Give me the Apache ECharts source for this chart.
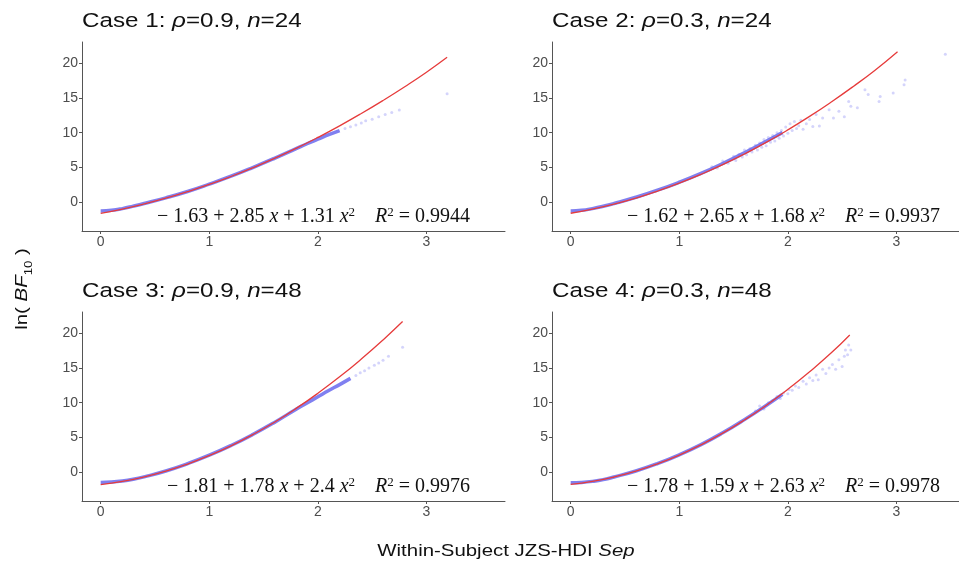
<!DOCTYPE html>
<html>
<head>
<meta charset="utf-8">
<script src="https://cdn.jsdelivr.net/npm/echarts@6/dist/echarts.min.js"></script>
<style>
  html, body { margin: 0; padding: 0; background: #fff; }
  #main { width: 959px; height: 571px; }
</style>
</head>
<body>
<div id="main"></div>
<script>
// panel labels
var caseRho = ['0.9', '0.3', '0.9', '0.3'];
var caseN = ['24', '24', '48', '48'];
var coefA = ['1.63', '1.62', '1.81', '1.78'];
var coefB = ['2.85', '2.65', '1.78', '1.59'];
var coefC = ['1.31', '1.68', '2.4', '2.63'];
var rSquared = ['0.9944', '0.9937', '0.9976', '0.9978'];
var xTicks = [0, 1, 2, 3];
var yTicks = [0, 5, 10, 15, 20];

// red quadratic fit
var fit1 = [[0,-1.63],[0.2,-1.01],[0.4,-0.28],[0.6,0.55],[0.8,1.49],[1.0,2.53],[1.2,3.68],[1.4,4.93],[1.6,6.28],[1.8,7.74],[2.0,9.31],[2.2,10.98],[2.4,12.76],[2.6,14.64],[2.8,16.62],[3.0,18.71],[3.19,20.86]];
var fit2 = [[0,-1.62],[0.2,-1.02],[0.4,-0.29],[0.6,0.57],[0.8,1.58],[1.0,2.71],[1.2,3.98],[1.4,5.38],[1.6,6.92],[1.8,8.59],[2.0,10.40],[2.2,12.34],[2.4,14.42],[2.6,16.63],[2.8,18.97],[3.01,21.67]];
var fit3 = [[0,-1.81],[0.2,-1.36],[0.4,-0.71],[0.6,0.12],[0.8,1.15],[1.0,2.37],[1.2,3.78],[1.4,5.39],[1.6,7.18],[1.8,9.17],[2.0,11.35],[2.2,13.72],[2.4,16.29],[2.6,19.04],[2.78,21.69]];
var fit4 = [[0,-1.78],[0.2,-1.36],[0.4,-0.72],[0.6,0.12],[0.8,1.18],[1.0,2.44],[1.2,3.92],[1.4,5.60],[1.6,7.50],[1.8,9.60],[2.0,11.92],[2.2,14.45],[2.4,17.18],[2.57,19.76]];

// dense part of the point cloud (looks like a thick blue line)
var dense1 = [[0,-1.3],[0.1,-1.2],[0.2,-0.95],[0.3,-0.6],[0.4,-0.22],[0.6,0.6],[0.8,1.52],[1.0,2.58],[1.2,3.72],[1.4,4.97],[1.6,6.3],[1.8,7.7],[1.9,8.4],[2.0,9.05],[2.1,9.7],[2.2,10.3]];
var dense2 = [[0,-1.3],[0.1,-1.2],[0.2,-0.95],[0.3,-0.62],[0.4,-0.22],[0.6,0.68],[0.8,1.7],[1.0,2.85],[1.2,4.12],[1.4,5.55],[1.6,7.1],[1.8,8.75],[1.95,10.0]];
var dense3 = [[0,-1.5],[0.1,-1.45],[0.2,-1.3],[0.3,-1.05],[0.4,-0.7],[0.6,0.15],[0.8,1.2],[1.0,2.42],[1.2,3.82],[1.4,5.4],[1.6,7.15],[1.8,9.05],[1.9,9.95],[2.0,10.85],[2.1,11.75],[2.2,12.6],[2.3,13.5]];
var dense4 = [[0,-1.55],[0.1,-1.5],[0.2,-1.35],[0.3,-1.1],[0.4,-0.72],[0.6,0.15],[0.8,1.22],[1.0,2.48],[1.2,3.95],[1.4,5.65],[1.6,7.55],[1.8,9.6],[1.95,11.2]];

// scattered points
var pts1 = [[2.25,10.6],[2.3,10.85],[2.35,11.1],[2.4,11.4],[2.44,11.7],[2.5,11.95],[2.56,12.3],[2.62,12.6],[2.68,12.9],[2.75,13.25],[3.19,15.6]];
var pts2 = [[1.3,5.1],[1.35,4.9],[1.4,5.9],[1.45,5.6],[1.5,6.6],[1.52,6.0],[1.55,6.9],[1.58,6.5],[1.6,7.5],[1.62,6.8],[1.65,7.7],[1.67,7.2],[1.7,8.2],[1.72,7.5],[1.74,8.5],[1.76,7.9],[1.78,9.0],[1.8,8.1],[1.82,9.3],[1.84,8.6],[1.86,9.6],[1.88,8.8],[1.9,10.0],[1.92,9.2],[1.94,10.3],[1.96,9.5],[1.98,10.8],[2.0,9.9],[2.02,11.3],[2.04,10.3],[2.06,11.6],[2.08,10.6],[2.1,11.0],[2.12,11.8],[2.14,10.5],[2.17,11.3],[2.2,11.9],[2.23,10.9],[2.26,12.6],[2.29,10.95],[2.32,12.1],[2.38,13.3],[2.42,12.1],[2.47,13.1],[2.52,12.3],[2.56,14.5],[2.58,13.8],[2.64,13.6],[2.71,16.2],[2.74,15.5],[2.84,14.5],[2.85,15.2],[2.97,15.7],[3.07,16.9],[3.08,17.6],[3.45,21.3]];
var pts3 = [[2.35,13.9],[2.39,14.3],[2.43,14.6],[2.47,15.0],[2.52,15.4],[2.56,15.7],[2.6,16.1],[2.65,16.7],[2.78,18.0]];
var pts4 = [[1.7,8.8],[1.74,9.5],[1.78,9.1],[1.82,10.0],[1.86,10.3],[1.9,10.9],[1.93,10.6],[1.96,11.4],[2.0,11.3],[2.01,11.9],[2.04,11.8],[2.07,12.4],[2.1,12.2],[2.14,13.1],[2.17,12.7],[2.2,13.6],[2.23,13.2],[2.26,14.0],[2.28,13.3],[2.32,14.8],[2.35,14.2],[2.38,15.0],[2.41,15.5],[2.44,14.8],[2.47,16.2],[2.5,15.2],[2.52,16.7],[2.53,17.6],[2.55,16.9],[2.56,18.3],[2.58,17.6]];

var fits = [fit1, fit2, fit3, fit4];
var denses = [dense1, dense2, dense3, dense4];
var points = [pts1, pts2, pts3, pts4];

var chart = echarts.init(document.getElementById('main'));

var sans = 'Liberation Sans';
var serif = 'Liberation Serif';
var axisGrey = '#555';

// panel boxes
var lefts = [82, 552, 82, 552];
var tops = [42, 42, 312, 312];
var widths = [423, 407, 423, 407];
var xMaxs = [3.723, 3.576, 3.723, 3.576];

var grids = [], xAxes = [], yAxes = [], series = [], graphics = [];

for (var i = 0; i < 4; i++) {
    grids.push({ left: lefts[i], top: tops[i], width: widths[i], height: 189 });
    xAxes.push({
        gridIndex: i, type: 'value', min: -0.172, max: xMaxs[i],
        splitLine: { show: false },
        axisLine: { onZero: false, lineStyle: { color: axisGrey, width: 1 } },
        axisTick: { length: 3, customValues: xTicks, lineStyle: { color: axisGrey } },
        axisLabel: { customValues: xTicks, fontSize: 14, color: '#4d4d4d', margin: 4, fontFamily: sans }
    });
    yAxes.push({
        gridIndex: i, type: 'value', min: -4.18, max: 23.07,
        splitLine: { show: false },
        axisLine: { onZero: false, lineStyle: { color: axisGrey, width: 1 } },
        axisTick: { length: 3, customValues: yTicks, lineStyle: { color: axisGrey } },
        axisLabel: { customValues: yTicks, fontSize: 14, color: '#4d4d4d', margin: 4, fontFamily: sans }
    });
    series.push({
        type: 'line', xAxisIndex: i, yAxisIndex: i, data: denses[i],
        smooth: true, showSymbol: false, z: 2,
        lineStyle: { color: 'rgba(85,85,235,0.75)', width: 3.5 }
    });
    series.push({
        type: 'scatter', xAxisIndex: i, yAxisIndex: i, data: points[i],
        symbolSize: 3, z: 3,
        itemStyle: { color: 'rgba(100,100,240,0.35)' }
    });
    series.push({
        type: 'line', xAxisIndex: i, yAxisIndex: i, data: fits[i],
        smooth: true, showSymbol: false, z: 4,
        lineStyle: { color: '#e63b3b', width: 1.3 }
    });

    // panel title
    graphics.push({
        type: 'text', x: lefts[i], y: tops[i] - 21, scaleX: 1.18,
        style: {
            text: 'Case ' + (i + 1) + ': {i|ρ}=' + caseRho[i] + ', {i|n}=' + caseN[i],
            fontSize: 20.5, fontFamily: sans, fill: '#111',
            align: 'left', verticalAlign: 'middle',
            rich: { i: { fontStyle: 'italic', fontSize: 20.5, fontFamily: sans, fill: '#111' } }
        }
    });
    // fitted equation
    graphics.push({
        type: 'text', x: (i % 2 === 0 ? 470 : 940), y: tops[i] + 175,
        style: {
            text: '− ' + coefA[i] + ' + ' + coefB[i] + ' {i|x} + ' + coefC[i] + ' {i|x}{s|2}    {i|R}{s|2} = ' + rSquared[i],
            fontSize: 20, fontFamily: serif, fill: '#111',
            align: 'right', verticalAlign: 'middle',
            rich: {
                i: { fontStyle: 'italic', fontSize: 20, fontFamily: serif, fill: '#111', lineHeight: 22 },
                s: { fontSize: 13, fontFamily: serif, fill: '#111', verticalAlign: 'top', lineHeight: 9 }
            }
        }
    });
}

// axis names
graphics.push({
    type: 'text', x: 506, y: 551, scaleX: 1.2,
    style: {
        text: 'Within-Subject JZS-HDI {i|Sep}',
        fontSize: 17, fontFamily: sans, fill: '#111', align: 'center', verticalAlign: 'middle',
        rich: { i: { fontStyle: 'italic', fontSize: 17, fontFamily: sans, fill: '#111' } }
    }
});
graphics.push({
    type: 'text', x: 22, y: 289, rotation: Math.PI / 2, scaleX: 1.2,
    style: {
        text: 'ln( {i|BF}{s|10} )',
        fontSize: 17, fontFamily: sans, fill: '#111', align: 'center', verticalAlign: 'middle',
        rich: {
            i: { fontStyle: 'italic', fontSize: 17, fontFamily: sans, fill: '#111', lineHeight: 24 },
            s: { fontSize: 11, fontFamily: sans, fill: '#111', verticalAlign: 'bottom', lineHeight: 24 }
        }
    }
});

chart.setOption({
    animation: false,
    backgroundColor: '#fff',
    grid: grids,
    xAxis: xAxes,
    yAxis: yAxes,
    series: series,
    graphic: graphics
});
</script>
</body>
</html>
